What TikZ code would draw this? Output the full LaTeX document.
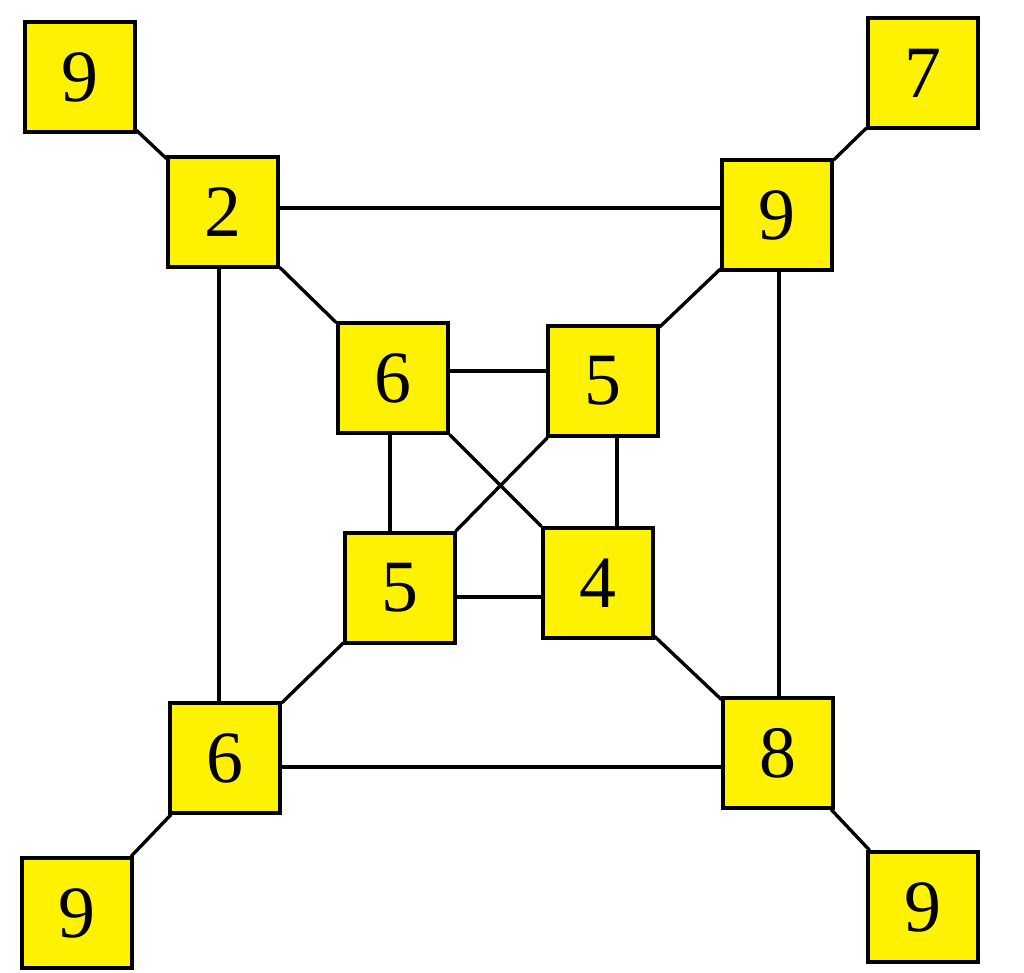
\documentclass[tikz,border=0pt]{standalone}
\usepackage{fontspec}
\setmainfont{Liberation Serif}
\begin{document}
\begin{tikzpicture}[
    x=0.02cm, y=-0.02cm,
    every node/.style={draw=black, line width=1.8pt, fill=yellow, minimum size=2.2cm, inner sep=0pt, font=\fontsize{42}{44}\selectfont},
    link/.style={draw, line width=1.9pt}
]
\useasboundingbox (0,0) rectangle (1024,973);
% corner boxes
\node (ctl) at (80,77) {9};
\node (ctr) at (923,73) {7};
\node (cbl) at (77,913) {9};
\node (cbr) at (923,907) {9};
% outer square
\node (otl) at (223,212) {2};
\node (otr) at (777,215) {9};
\node (obl) at (225,758) {6};
\node (obr) at (778,753) {8};
% inner square
\node (itl) at (393,378) {6};
\node (itr) at (603,381) {5};
\node (ibl) at (400,588) {5};
\node (ibr) at (598,583) {4};
% where the straight links run
\coordinate (hTop) at (0,208);
\coordinate (hBot) at (0,767);
\coordinate (vLeft) at (219,0);
\coordinate (vRight) at (779,0);
\coordinate (hInTop) at (0,371);
\coordinate (hInBot) at (0,597);
\coordinate (vInLeft) at (390,0);
\coordinate (vInRight) at (617,0);

\path[link] (ctl) -- (otl) (ctr) -- (otr) (cbl) -- (obl) (cbr) -- (obr);
\path[link] (otl.east |- hTop) -- (otr.west |- hTop);
\path[link] (obl.east |- hBot) -- (obr.west |- hBot);
\path[link] (otl.south -| vLeft) -- (obl.north -| vLeft);
\path[link] (otr.south -| vRight) -- (obr.north -| vRight);
\path[link] (otl) -- (itl) (otr) -- (itr) (obl) -- (ibl) (obr) -- (ibr);
\path[link] (itl.east |- hInTop) -- (itr.west |- hInTop);
\path[link] (ibl.east |- hInBot) -- (ibr.west |- hInBot);
\path[link] (itl.south -| vInLeft) -- (ibl.north -| vInLeft);
\path[link] (itr.south -| vInRight) -- (ibr.north -| vInRight);
\path[link] (itl) -- (ibr) (itr) -- (ibl);
\end{tikzpicture}
\end{document}
